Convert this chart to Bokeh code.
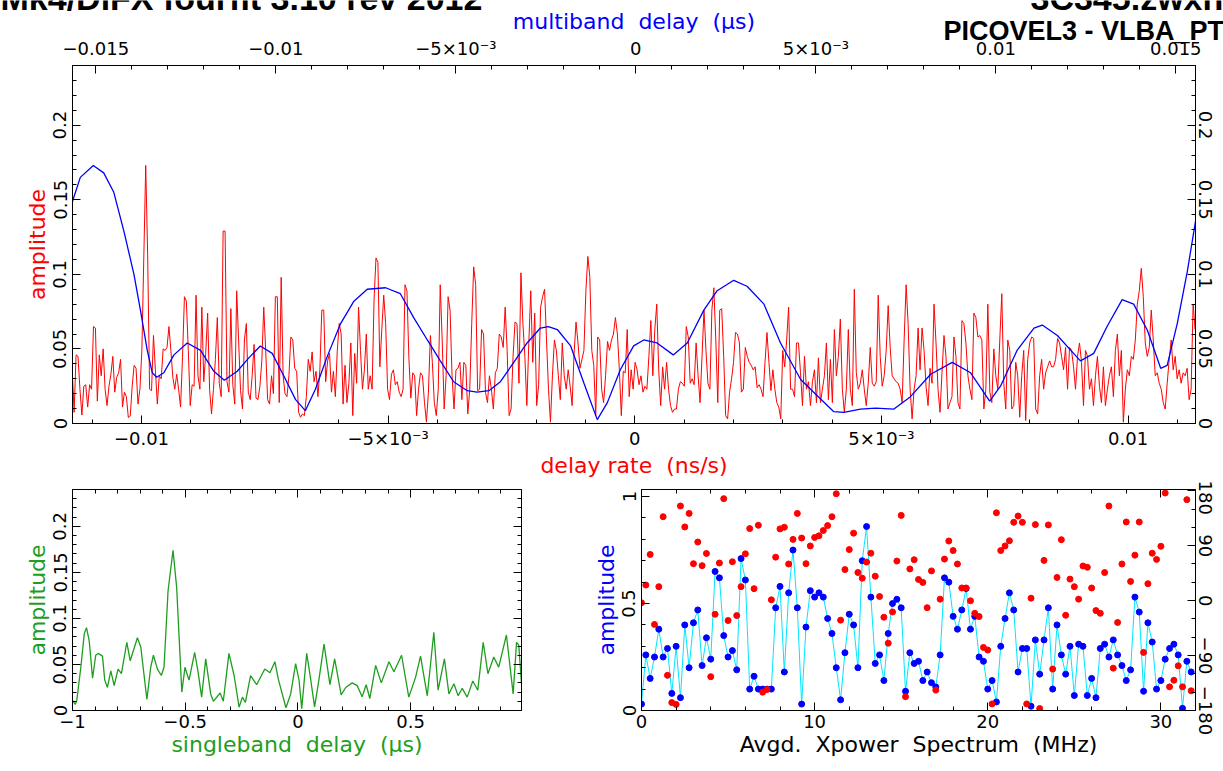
import numpy as np
from bokeh.plotting import figure
from bokeh.models import Range1d, LinearAxis, FixedTicker, CustomLabelingPolicy
from bokeh.core.properties import value
from bokeh.layouts import column, row
from bokeh.embed import file_html
from bokeh.resources import INLINE

# ---------------- data ----------------
# delay-rate spectrum (red), three contiguous sample segments: (start, end) in ns/s
DR_SEG_A_RANGE = (-0.011404, -0.004344)
DR_SEG_A = [0.036,0.0075,0.046,0.045,0.023,0.0057,0.025,0.026,0.011,0.026,0.023,0.065,0.064,0.015,0.046,0.032,0.050,0.023,0.012,0.025,
            0.033,0.045,0.021,0.031,0.034,0.043,0.011,0.021,0.018,0.004,0.005,0.025,0.039,0.037,0.013,0.023,0.049,0.111,0.173,0.113,
            0.023,0.022,0.059,0.036,0.013,0.032,0.030,0.050,0.049,0.051,0.065,0.049,0.031,0.023,0.033,0.023,0.011,0.044,0.085,0.082,
            0.049,0.012,0.026,0.025,0.086,0.032,0.023,0.078,0.028,0.047,0.074,0.023,0.0064,0.023,0.043,0.071,0.027,0.018,0.129,0.129,
            0.028,0.021,0.077,0.026,0.013,0.089,0.056,0.022,0.0097,0.056,0.067,0.021,0.016,0.032,0.053,0.017,0.016,0.025,0.042,0.078,
            0.049,0.016,0.013,0.032,0.020,0.085,0.085,0.014,0.098,0.032,0.020,0.018,0.032,0.058,0.056,0.037,0.035,0.0075,0.0042,0.0064,
            0.0053,0.018,0.043,0.035,0.048,0.028,0.035,0.018,0.036,0.076,0.076,0.028,0.042,0.047,0.021,0.035,0.018,0.049,0.067,0.060,
            0.013,0.039,0.014,0.027,0.054,0.0053,0.047,0.027,0.078,0.049,0.023,0.036,0.060,0.023,0.032,0.023,0.083,0.111,0.108,0.038,
            0.063,0.086,0.067,0.023,0.016,0.033,0.036,0.026,0.028,0.021,0.018,0.023,0.093,0.089,0.044,0.017,0.034,0.032,0.0053,0.023,0.034]
DR_SEG_B_RANGE = (-0.004303, 0.003318)
DR_SEG_B = [0.032,0.014,0.0009,0.021,0.059,0.041,0.014,0.0053,0.023,0.093,0.056,0.0097,0.032,0.085,0.076,0.032,0.0097,0.036,0.037,0.041,
            0.016,0.041,0.039,0.0064,0.023,0.067,0.105,0.093,0.022,0.023,0.063,0.060,0.021,0.014,0.032,0.023,0.0097,0.034,0.037,0.060,
            0.058,0.051,0.078,0.049,0.0053,0.0097,0.045,0.068,0.067,0.027,0.101,0.067,0.045,0.012,0.054,0.089,0.041,0.074,0.012,0.026,
            0.078,0.085,0.090,0.056,0.023,0.0009,0.032,0.056,0.049,0.032,0.016,0.054,0.032,0.023,0.036,0.025,0.012,0.047,0.068,0.054,
            0.037,0.043,0.049,0.089,0.112,0.098,0.049,0.039,0.0053,0.058,0.056,0.023,0.014,0.032,0.055,0.049,0.056,0.060,0.071,0.060,
            0.036,0.0053,0.035,0.034,0.063,0.018,0.036,0.023,0.041,0.036,0.026,0.032,0.021,0.025,0.023,0.045,0.069,0.032,0.063,0.080,
            0.036,0.012,0.038,0.023,0.041,0.023,0.012,0.0075,0.0097,0.0097,0.023,0.028,0.027,0.025,0.065,0.058,0.027,0.030,0.026,0.054,
            0.032,0.014,0.045,0.076,0.049,0.027,0.023,0.076,0.091,0.056,0.014,0.076,0.077,0.045,0.0053,0.0031,0.021,0.030,0.041,0.061,
            0.060,0.054,0.021,0.023,0.051,0.045,0.041,0.039,0.036,0.038,0.024,0.026,0.023,0.018,0.041,0.061,0.041,0.022,0.036,0.023,
            0.014,0.011,0.0031,0.049,0.038,0.056,0.078,0.023,0.023,0.018,0.054,0.054]
DR_SEG_C_RANGE = (0.003359, 0.011358)
DR_SEG_C = [0.034,0.012,0.045,0.023,0.028,0.012,0.028,0.036,0.014,0.044,0.014,0.023,0.032,0.054,0.016,0.043,0.014,0.063,0.032,0.045,
            0.070,0.023,0.0075,0.023,0.063,0.023,0.012,0.090,0.034,0.023,0.027,0.036,0.023,0.012,0.027,0.051,0.027,0.025,0.028,0.086,
            0.045,0.025,0.032,0.049,0.079,0.051,0.032,0.030,0.028,0.027,0.023,0.014,0.056,0.093,0.067,0.023,0.0031,0.023,0.032,0.064,
            0.036,0.064,0.049,0.025,0.012,0.037,0.027,0.080,0.054,0.023,0.0075,0.034,0.059,0.045,0.0097,0.014,0.018,0.058,0.045,0.014,
            0.0097,0.069,0.067,0.054,0.032,0.023,0.016,0.074,0.071,0.058,0.059,0.056,0.0097,0.023,0.080,0.021,0.014,0.050,0.032,0.023,
            0.056,0.087,0.027,0.0097,0.056,0.049,0.0097,0.012,0.041,0.032,0.0042,0.032,0.049,0.0020,0.043,0.054,0.058,0.057,0.0097,0.0064,
            0.032,0.043,0.023,0.034,0.038,0.042,0.038,0.038,0.043,0.057,0.054,0.045,0.036,0.051,0.023,0.051,0.049,0.038,0.023,0.045,
            0.054,0.041,0.012,0.049,0.045,0.023,0.030,0.012,0.032,0.045,0.025,0.014,0.038,0.012,0.023,0.032,0.038,0.018,0.049,0.060,
            0.032,0.049,0.0009,0.023,0.036,0.032,0.045,0.043,0.056,0.080,0.089,0.104,0.085,0.054,0.045,0.051,0.076,0.056,0.032,0.034,
            0.027,0.023,0.014,0.0097,0.027,0.043,0.056,0.036,0.045,0.030,0.036,0.027,0.034,0.032,0.037,0.016,0.023,0.080,0.063]

# multiband delay (blue), x in microseconds
MBD_X = [-0.01566,-0.01543,-0.01507,-0.01478,-0.01450,-0.01422,-0.01394,-0.01376,-0.01357,-0.01343,-0.01331,-0.01311,-0.01283,
         -0.01246,-0.01209,-0.01172,-0.01143,-0.01107,-0.01075,-0.01043,-0.01010,-0.00978,-0.00945,-0.00918,-0.00890,-0.00857,
         -0.00820,-0.00783,-0.00746,-0.00695,-0.00654,-0.00617,-0.00579,-0.00543,-0.00506,-0.00468,-0.00441,-0.00408,-0.00376,
         -0.00339,-0.00302,-0.00265,-0.00243,-0.00218,-0.00181,-0.00144,-0.00107,-0.00079,-0.00043,-0.00006,0.00022,0.00059,
         0.00104,0.00143,0.00189,0.00226,0.00272,0.00309,0.00356,0.00402,0.00458,0.00494,0.00550,0.00578,0.00624,0.00666,
         0.00717,0.00763,0.00819,0.00879,0.00930,0.00983,0.01013,0.01059,0.01106,0.01129,0.01171,0.01235,0.01272,0.01309,
         0.01351,0.01383,0.01421,0.01458,0.01476,0.01504,0.01532,0.01555]
MBD_A = [0.148,0.165,0.173,0.168,0.155,0.129,0.100,0.076,0.049,0.034,0.031,0.034,0.046,
         0.054,0.049,0.035,0.029,0.035,0.044,0.052,0.047,0.032,0.016,0.0086,0.023,0.045,
         0.067,0.082,0.090,0.091,0.087,0.071,0.056,0.042,0.028,0.022,0.021,0.022,0.028,
         0.041,0.054,0.064,0.065,0.063,0.052,0.027,0.0026,0.014,0.036,0.052,0.056,0.054,
         0.046,0.054,0.076,0.089,0.096,0.092,0.080,0.054,0.0295,0.021,0.0079,0.0075,0.0097,0.0103,
         0.0097,0.018,0.033,0.041,0.034,0.015,0.025,0.049,0.064,0.066,0.059,0.042,0.047,0.065,
         0.083,0.080,0.0625,0.037,0.039,0.067,0.102,0.136]

# singleband delay (green)
SB_X = [-1.000,-0.988,-0.981,-0.963,-0.948,-0.938,-0.926,-0.911,-0.897,-0.886,-0.867,-0.857,-0.845,-0.830,-0.815,-0.798,-0.783,-0.759,-0.744,-0.712,
        -0.697,-0.670,-0.653,-0.641,-0.623,-0.606,-0.594,-0.576,-0.554,-0.538,-0.515,-0.501,-0.483,-0.458,-0.443,-0.427,-0.409,-0.387,-0.375,-0.345,
        -0.331,-0.306,-0.283,-0.261,-0.246,-0.233,-0.210,-0.183,-0.147,-0.124,-0.102,-0.087,-0.053,-0.032,-0.010,0.005,0.017,0.039,0.053,0.074,
        0.093,0.116,0.142,0.163,0.192,0.212,0.241,0.263,0.285,0.303,0.319,0.345,0.370,0.404,0.426,0.460,0.492,0.522,0.544,0.574,
        0.603,0.622,0.650,0.670,0.692,0.711,0.729,0.751,0.776,0.798,0.822,0.843,0.869,0.891,0.925,0.955,0.970,0.980,0.992]
SB_A = [0.011,0.0065,0.011,0.047,0.083,0.090,0.076,0.035,0.060,0.062,0.059,0.033,0.025,0.043,0.027,0.045,0.040,0.074,0.054,0.079,
        0.069,0.012,0.047,0.060,0.045,0.038,0.047,0.130,0.174,0.134,0.020,0.047,0.033,0.063,0.042,0.0145,0.056,0.018,0.010,0.019,
        0.010,0.062,0.038,0.0036,0.0145,0.0087,0.038,0.028,0.045,0.041,0.053,0.034,0.003,0.018,0.051,0.033,0.002,0.062,0.040,0.004,
        0.033,0.072,0.028,0.056,0.017,0.025,0.030,0.027,0.015,0.028,0.013,0.049,0.030,0.053,0.042,0.060,0.0145,0.036,0.059,0.016,
        0.085,0.022,0.056,0.018,0.029,0.016,0.024,0.0145,0.032,0.022,0.074,0.040,0.058,0.047,0.082,0.018,0.074,0.071,0.029]

# averaged cross-power spectrum: 128 channels, 0.25 MHz apart
XP_CHAN_STEP = 0.25
XP_AMP = [0.03,0.26,0.15,0.25,0.38,0.25,0.29,0.08,0.30,0.06,
          0.40,0.20,0.41,0.47,0.21,0.34,0.24,0.65,0.62,0.35,
          0.25,0.28,0.19,0.71,0.61,0.10,0.16,0.10,0.10,0.10,
          0.10,0.48,0.58,0.18,0.55,0.75,0.48,0.03,0.39,0.56,
          0.53,0.55,0.53,0.43,0.36,0.20,0.05,0.27,0.45,0.40,
          0.20,0.70,0.86,0.53,0.22,0.26,0.14,0.36,0.50,0.52,
          0.48,0.09,0.27,0.22,0.23,0.14,0.18,0.13,0.11,0.26,
          0.62,0.60,0.44,0.38,0.47,0.57,0.38,0.44,0.25,0.23,
          0.10,0.14,0.04,0.30,0.43,0.55,0.47,0.18,0.29,0.29,
          0.02,0.33,0.17,0.33,0.48,0.10,0.40,0.26,0.17,0.30,
          0.07,0.31,0.30,0.07,0.15,0.06,0.29,0.31,0.25,0.33,
          0.26,0.21,0.14,0.19,0.53,0.46,0.09,0.41,0.32,0.10,
          0.14,0.24,0.29,0.31,0.26,0.01,0.23,0.18]
XP_PHASE = [-3.5,25.5,75.6,-39,22.8,137.4,-122.4,-167,-170,155,
            120.7,142.8,60.5,96,57.3,77.2,-124.6,-22.4,61.6,167,
            -32.6,63.7,-24.5,22.8,76.6,118,19.6,123.4,-150,-145.6,
            1.3,71.2,117.5,120.2,60,100.3,142.8,102.5,60.5,89.5,
            103.5,106.2,114.8,122.9,137.4,175,-32,50.8,83.6,110.5,
            46,36.8,63.2,77.7,40,6.7,-27.2,-69.7,-18.6,64.8,
            139.6,-157.4,51.9,67,34.7,29.8,-11.6,48.7,-146.6,2.4,
            68,97.6,82,60,20.7,20.7,-0.3,-20.8,-26.1,-76.7,
            -81,-169.2,143.9,82,89.5,98,128.3,138.5,128.3,-169.2,
            4,124.5,-176.8,65.9,124,-112.2,37.9,99.8,-24,35.2,
            22.8,2.4,56.7,54.6,20.7,-16.4,-20.8,46,155,-110.6,
            -35.8,60,128.8,31.4,74.5,128.8,-84.8,27.7,77.7,67.5,
            89,176.2,-141.3,-130.5,-106.8,-141.3,165.4,-147.7]

# tick labels
DR_TICKS = [-0.01, -0.005, 0.0, 0.005, 0.01]
DR_LABELS = ["\u22120.01", "\u22125\u00d710\u207b\u00b3", "0", "5\u00d710\u207b\u00b3", "0.01"]
MBD_TICKS = [-0.015, -0.01, -0.005, 0.0, 0.005, 0.01, 0.015]
MBD_LABELS = ["\u22120.015", "\u22120.01", "\u22125\u00d710\u207b\u00b3", "0", "5\u00d710\u207b\u00b3", "0.01", "0.015"]
AMP_TICKS = [0.0, 0.05, 0.1, 0.15, 0.2]
AMP_LABELS = ["0", "0.05", "0.1", "0.15", "0.2"]
SB_TICKS = [-1.0, -0.5, 0.0, 0.5]
SB_LABELS = ["\u22121", "\u22120.5", "0", "0.5"]
XP_TICKS = [0.0, 10.0, 20.0, 30.0]
XP_LABELS = ["0", "10", "20", "30"]
XA_TICKS = [0.0, 0.5, 1.0]
XA_LABELS = ["0", "0.5", "1"]
PH_TICKS = [-180.0, -90.0, 0.0, 90.0, 180.0]
PH_LABELS = ["\u2212180", "\u221290", "0", "90", "180"]

TITLE_TOP = ["Mk4/DiFX fourfit  3.10 rev 2012", "3C345.zwxnsk"]
TITLE_BASELINE = ["PICOVEL3 - VLBA_PT"]

# ---------------- styling ----------------
FONT = "DejaVu Sans"
TICK_FS = "18px"
LAB_FS = "22px"
RED, BLUE, GREEN, CYAN = "#ff0000", "#0000ff", "#1e9e1e", "#00e5ff"

DR_RANGE = (-0.011398, 0.011366)
MBD_RANGE = (-0.015647, 0.015547)


def add_axis(p, side, ticks, minor, labels=None, title=None, color="black",
             range_name=None, orient=None, standoff=5, show=True):
    kw = {}
    if range_name:
        kw["y_range_name" if side in ("left", "right") else "x_range_name"] = range_name
    ax = LinearAxis(ticker=FixedTicker(ticks=list(ticks), minor_ticks=[float(m) for m in minor]), **kw)
    ax.major_tick_in = 8
    ax.major_tick_out = 0
    ax.minor_tick_in = 4
    ax.minor_tick_out = 0
    ax.axis_line_color = "black"
    ax.major_tick_line_color = "black"
    ax.minor_tick_line_color = "black"
    ax.major_label_text_font = FONT
    ax.major_label_text_color = "black"
    if show:
        ax.major_label_text_font_size = TICK_FS
        ax.major_label_standoff = standoff
        if labels:
            ax.major_label_overrides = {float(t): l for t, l in zip(ticks, labels)}
    else:
        ax.major_label_text_font_size = "0px"
        ax.major_label_standoff = 0
        ax.major_label_policy = CustomLabelingPolicy(code="return []")
    if orient:
        ax.major_label_orientation = orient
    if title:
        ax.axis_label = title
        ax.axis_label_text_color = color
        ax.axis_label_text_font = FONT
        ax.axis_label_text_font_size = LAB_FS
        ax.axis_label_text_font_style = "normal"
        ax.axis_label_standoff = 1
    p.add_layout(ax, side)
    return ax


def base_fig(**kw):
    kw.setdefault("border_fill_color", "white")
    p = figure(output_backend="svg", toolbar_location=None, x_axis_location=None,
               y_axis_location=None, outline_line_color="black", outline_line_width=1,
               background_fill_color="white", **kw)
    p.grid.visible = False
    return p

# ---------------- header (titles, partly cropped at the top as in the reference) ----------------
# zero net height (negative bottom margin): the main plot is laid over it with a transparent border
header = figure(width=1223, height=60, x_range=Range1d(0, 1223), y_range=Range1d(60, 0),
                output_backend="svg", toolbar_location=None, x_axis_location=None,
                y_axis_location=None, min_border=0, outline_line_color=None, frame_align=False,
                background_fill_color="white", border_fill_color="white", margin=(0, 0, -60, 0))
header.grid.visible = False
header.text(x=[0, 1030], y=[-3, -3], text=TITLE_TOP,
            text_font=value("Liberation Sans"), text_font_style="bold",
            text_font_size="34px", text_color="black", text_baseline="alphabetic", text_align="left")
header.text(x=[943], y=[30], text=TITLE_BASELINE,
            text_font=value("Liberation Sans"), text_font_style="bold",
            text_font_size="27px", text_color="black", text_baseline="alphabetic", text_align="left")

# ---------------- main (delay rate / multiband delay) ----------------
main = base_fig(width=1223, height=480, x_range=Range1d(*DR_RANGE), y_range=Range1d(0, 0.24),
                min_border_left=72, min_border_right=28, min_border_top=65, min_border_bottom=52,
                border_fill_alpha=0)
main.extra_x_ranges = {"mbd": Range1d(*MBD_RANGE)}

add_axis(main, "below", DR_TICKS, np.round(np.arange(-0.011, 0.0115, 0.001), 4), DR_LABELS,
         "delay\u00a0rate\u00a0\u00a0(ns/s)", RED, standoff=4)
add_axis(main, "above", MBD_TICKS, np.round(np.arange(-0.015, 0.0156, 0.001), 4), MBD_LABELS,
         "multiband\u00a0\u00a0delay\u00a0\u00a0(\u03bcs)", BLUE, range_name="mbd", standoff=7)
add_axis(main, "left", AMP_TICKS, np.round(np.arange(0, 0.241, 0.01), 3), AMP_LABELS,
         "amplitude", RED, orient="vertical", standoff=6)
add_axis(main, "right", AMP_TICKS, np.round(np.arange(0, 0.241, 0.01), 3), AMP_LABELS,
         None, orient="vertical", standoff=3)

segs = [(DR_SEG_A_RANGE, DR_SEG_A), (DR_SEG_B_RANGE, DR_SEG_B), (DR_SEG_C_RANGE, DR_SEG_C)]
dr_x, dr_y = [], []
for (a, b), vals in segs:
    dr_x.extend(np.linspace(a, b, len(vals)))
    dr_y.extend(vals)
main.line(dr_x, dr_y, line_color=RED, line_width=1)
main.line(MBD_X, MBD_A, line_color=BLUE, line_width=1.3, x_range_name="mbd")

# ---------------- singleband delay ----------------
bl = base_fig(width=531, height=291, x_range=Range1d(-1.0, 0.992), y_range=Range1d(0, 0.24),
              min_border_left=72, min_border_right=10, min_border_top=9, min_border_bottom=61)
sb_minor = np.round(np.arange(-1.0, 1.0, 0.1), 2)
amp_minor = np.round(np.arange(0, 0.241, 0.01), 3)
add_axis(bl, "below", SB_TICKS, sb_minor, SB_LABELS, "singleband\u00a0\u00a0delay\u00a0\u00a0(\u03bcs)", GREEN, standoff=4)
add_axis(bl, "above", SB_TICKS, sb_minor, show=False)
add_axis(bl, "left", AMP_TICKS, amp_minor, AMP_LABELS, "amplitude", GREEN, orient="vertical", standoff=6)
add_axis(bl, "right", AMP_TICKS, amp_minor, show=False)
bl.line(SB_X, SB_A, line_color=GREEN, line_width=1.3)

# ---------------- cross-power spectrum ----------------
br = base_fig(width=692, height=291, x_range=Range1d(0, 32), y_range=Range1d(0, 1.033),
              min_border_left=110, min_border_right=28, min_border_top=9, min_border_bottom=61)
br.extra_y_ranges = {"phase": Range1d(-180, 182)}
xp_minor = np.arange(0, 32.1, 2.0)
add_axis(br, "below", XP_TICKS, xp_minor, XP_LABELS, "Avgd.\u00a0\u00a0Xpower\u00a0\u00a0Spectrum\u00a0\u00a0(MHz)", "black", standoff=4)
add_axis(br, "above", XP_TICKS, xp_minor, show=False)
add_axis(br, "left", XA_TICKS, np.round(np.arange(0, 1.01, 0.1), 2), XA_LABELS, "amplitude", BLUE,
         orient="vertical", standoff=6)
add_axis(br, "right", PH_TICKS, np.arange(-180, 181, 30.0), PH_LABELS, None, range_name="phase",
         orient="vertical", standoff=3)

freq = np.arange(len(XP_AMP)) * XP_CHAN_STEP
br.line(freq, XP_AMP, line_color=CYAN, line_width=1)
br.scatter(freq, XP_AMP, size=6, fill_color=BLUE, line_color=BLUE)
br.scatter(freq, XP_PHASE, size=6, fill_color=RED, line_color=RED, y_range_name="phase")

layout = column(header, main, row(bl, br))
open("out.html", "w").write(file_html(layout, INLINE))
